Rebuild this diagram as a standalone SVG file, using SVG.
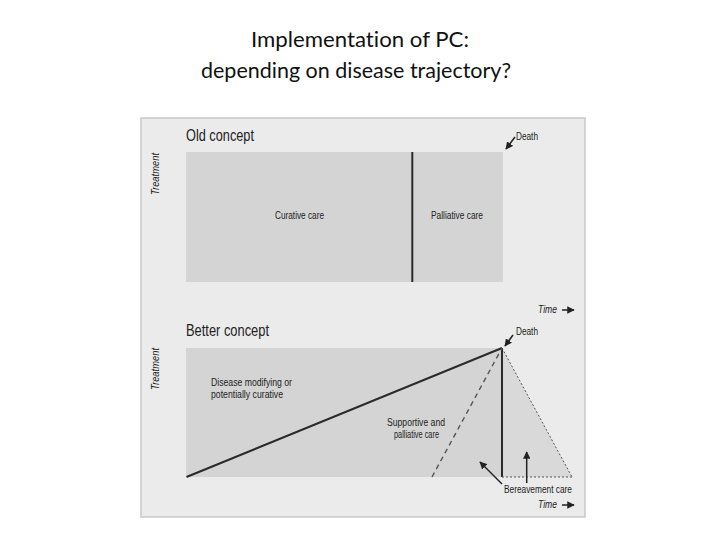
<svg xmlns="http://www.w3.org/2000/svg" width="720" height="540" viewBox="0 0 720 540">
<defs>
<style>
.title{font-family:Lato,"Liberation Sans",sans-serif;font-size:22px;fill:#111;text-anchor:middle;font-variant-ligatures:none}
.t{font-family:"Liberation Sans",sans-serif;fill:#222}
.h{font-size:17px}
.s{font-size:11px}
.it{font-style:italic}
.line{stroke:#2a2a2a;stroke-width:2;fill:none}
.arr{stroke:#222;stroke-width:1.5;fill:none}
</style>
<marker id="ah" viewBox="0 0 10 10" refX="9" refY="5" markerWidth="5" markerHeight="5" orient="auto">
<path d="M0,0 L10,5 L0,10 z" fill="#222"/>
</marker>
</defs>
<rect width="720" height="540" fill="#fff"/>
<g id="title">
<text class="title" x="360" y="47" textLength="218" lengthAdjust="spacingAndGlyphs">Implementation of PC:</text>
<text class="title" x="356" y="78" textLength="310" lengthAdjust="spacingAndGlyphs">depending on disease trajectory?</text>
</g>
<g id="panel">
<rect x="141" y="118" width="444" height="399" fill="#ebebeb" stroke="#c9c9c9" stroke-width="1.5"/>
</g>
<g id="old-concept">
<text class="t h" x="186" y="141" textLength="68" lengthAdjust="spacingAndGlyphs">Old concept</text>
<text class="t s it" transform="translate(159,174) rotate(-90)" text-anchor="middle" textLength="42" lengthAdjust="spacingAndGlyphs">Treatment</text>
<rect x="186" y="152" width="317" height="130" fill="#d4d4d4"/>
<line class="line" x1="412.3" y1="152" x2="412.3" y2="282"/>
<text class="t s" x="275" y="219" textLength="49" lengthAdjust="spacingAndGlyphs">Curative care</text>
<text class="t s" x="431" y="219" textLength="52" lengthAdjust="spacingAndGlyphs">Palliative care</text>
<text class="t s" x="516" y="140" textLength="22" lengthAdjust="spacingAndGlyphs">Death</text>
<text class="t s it" x="538" y="313" textLength="19" lengthAdjust="spacingAndGlyphs">Time</text>
</g>
<g id="better-concept">
<text class="t h" x="186" y="336" textLength="83" lengthAdjust="spacingAndGlyphs">Better concept</text>
<text class="t s it" transform="translate(159,369) rotate(-90)" text-anchor="middle" textLength="42" lengthAdjust="spacingAndGlyphs">Treatment</text>
<rect x="186" y="348" width="316" height="129" fill="#d4d4d4"/>
<polygon points="502,348 572,477 502,477" fill="#d9d9d9"/>
<text class="t s" x="211" y="386" textLength="81" lengthAdjust="spacingAndGlyphs">Disease modifying or</text>
<text class="t s" x="211" y="397.5" textLength="72" lengthAdjust="spacingAndGlyphs">potentially curative</text>
<text class="t s" x="387" y="426" textLength="58" lengthAdjust="spacingAndGlyphs">Supportive and</text>
<text class="t s" x="394" y="437.5" textLength="45" lengthAdjust="spacingAndGlyphs">palliative care</text>
<text class="t s" x="516" y="335" textLength="22" lengthAdjust="spacingAndGlyphs">Death</text>
<text class="t s" x="504" y="493" textLength="68" lengthAdjust="spacingAndGlyphs">Bereavement care</text>
<text class="t s it" x="538" y="508" textLength="19" lengthAdjust="spacingAndGlyphs">Time</text>
</g>
<g id="connectors">
<line class="arr" x1="515" y1="137" x2="506" y2="149" marker-end="url(#ah)"/>
<line class="arr" x1="562" y1="310" x2="574" y2="310" marker-end="url(#ah)"/>
<line class="line" x1="186.5" y1="477" x2="502" y2="348"/>
<line class="line" x1="502" y1="348" x2="502" y2="477"/>
<line x1="432" y1="477" x2="502" y2="348" stroke="#555" stroke-width="1.4" stroke-dasharray="5,4"/>
<line x1="502" y1="348" x2="572" y2="477" stroke="#555" stroke-width="1" stroke-dasharray="2,2"/>
<line x1="502" y1="477" x2="572" y2="477" stroke="#555" stroke-width="1" stroke-dasharray="2,2"/>
<line class="arr" x1="513" y1="335" x2="505" y2="346" marker-end="url(#ah)"/>
<line class="arr" x1="502" y1="484" x2="480" y2="462" marker-end="url(#ah)"/>
<line class="arr" x1="526.7" y1="483" x2="526.7" y2="452" marker-end="url(#ah)"/>
<line class="arr" x1="562" y1="505" x2="574" y2="505" marker-end="url(#ah)"/>
</g>
</svg>
